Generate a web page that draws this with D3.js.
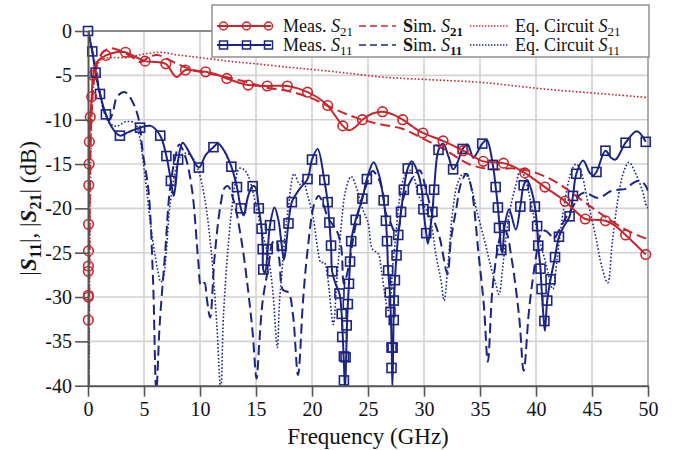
<!DOCTYPE html>
<html>
<head>
<meta charset="utf-8">
<script src="https://cdn.jsdelivr.net/npm/d3@7"></script>
<style>
  body { margin: 0; background: #fff; }
  svg { font-family: "Liberation Serif", "Times New Roman", serif; }
</style>
</head>
<body>
<svg id="chart" width="676" height="450"></svg>
<script>
// ---- data (frequency GHz, dB) ----
var xTicks = [0, 5, 10, 15, 20, 25, 30, 35, 40, 45, 50];
var yTicks = [0, -5, -10, -15, -20, -25, -30, -35, -40];

var measS21 = [[0,-60],[0.02,-45],[0.03,-30],[0.05,-22],[0.07,-17.4],[0.12,-12.5],[0.2,-9.7],[0.33,-7.4],[0.45,-5.0],
  [0.8,-3.5],[1.6,-2.75],[2.5,-2.4],[3.35,-2.4],[4.2,-2.9],[5.1,-3.4],[6.0,-3.5],[6.95,-3.7],[7.9,-5.2],[8.7,-4.4],
  [9.6,-4.5],[10.5,-4.6],[11.5,-4.9],[12.4,-5.35],[13.4,-5.8],[14.3,-6.1],[16.0,-6.2],[17.8,-6.2],[18.8,-6.5],
  [19.6,-6.9],[20.5,-7.5],[21.4,-8.4],[22.1,-9.6],[22.75,-10.7],[23.3,-11.2],[23.9,-10.8],[24.5,-10.0],[25.4,-9.3],
  [26.3,-9.1],[27.2,-9.4],[28.1,-10.0],[29.0,-10.8],[29.9,-11.5],[31.7,-12.4],[33.5,-13.5],[35.3,-14.7],[36.2,-14.8],
  [37.1,-14.9],[38.0,-15.3],[39.0,-16.0],[40.8,-17.6],[42.6,-19.2],[43.5,-20.3],[44.4,-21.2],[45.3,-21.3],
  [46.2,-21.4],[47.1,-22.0],[48.0,-23.0],[49.8,-25.2]];
var measS21Marks = [[0.03,-32.6],[0.03,-30.0],[0.03,-29.8],[0.03,-27.1],[0.035,-26.5],[0.04,-24.8],[0.05,-21.8],
  [0.07,-17.4],[0.1,-15.0],[0.12,-12.5],[0.2,-9.7],[0.33,-7.4],[0.45,-5.0],[1.6,-2.75],[3.35,-2.4],[5.1,-3.4],
  [6.95,-3.7],[8.7,-4.4],[10.5,-4.6],[12.4,-5.35],[14.3,-6.1],[16.0,-6.2],[17.8,-6.2],[19.6,-6.9],[21.4,-8.4],
  [22.75,-10.7],[24.5,-10.0],[26.3,-9.1],[28.1,-10.0],[29.9,-11.5],[31.7,-12.4],[33.5,-13.5],[35.3,-14.7],
  [37.1,-14.9],[39.0,-16.0],[40.8,-17.6],[42.6,-19.2],[44.4,-21.2],[46.2,-21.4],[48.0,-23.0],[49.8,-25.2]];

var simS21 = [[0.05,-45],[0.15,-20],[0.3,-10],[0.6,-5],[1.0,-3],[1.5,-2.2],[2.0,-1.95],[3.0,-2.3],[4.0,-3.0],
  [4.7,-3.5],[5.5,-2.9],[6.2,-2.7],[7.0,-3.1],[7.8,-3.6],[8.7,-4.1],[10,-4.6],[12,-5.1],[14,-5.7],[16,-6.4],
  [18,-6.8],[20,-7.6],[22,-8.8],[24,-9.8],[26,-10.5],[28,-11.0],[30,-12.2],[32,-13.5],[34,-15.0],[36,-15.6],
  [38,-15.5],[40,-16.0],[42,-17.2],[44,-19.0],[46,-20.8],[48,-22.4],[50,-23.5]];

var eqS21 = [[0.1,-45],[0.2,-20],[0.4,-8],[0.7,-4.5],[1.2,-3.2],[2,-3.0],[3.4,-3.0],[5,-2.6],[6.5,-2.4],[8,-2.7],
  [10,-3.0],[12.5,-3.4],[15,-3.7],[18,-4.1],[20.5,-4.4],[23.5,-4.8],[26.3,-5.2],[29,-5.4],[32.3,-5.6],[35.2,-5.8],
  [38.2,-6.2],[41.2,-6.6],[44.1,-6.9],[47.1,-7.2],[50,-7.5]];

var measS11 = [[0,0],[0.38,-2.3],[0.68,-4.7],[1.07,-7.1],[1.6,-9.4],[2.2,-11.0],[2.85,-11.8],[3.6,-11.4],[4.65,-10.9],
  [5.6,-10.7],[6.45,-11.8],[7.0,-14.1],[7.4,-16.9],[7.65,-18.6],[7.85,-17.0],[8.05,-14.5],[8.45,-12.6],[9.0,-13.6],
  [9.9,-15.4],[10.5,-14.0],[11.2,-13.1],[11.6,-12.7],[12.2,-13.6],[12.8,-15.3],[13.3,-17.6],[13.65,-20.0],
  [13.9,-20.8],[14.3,-18.6],[14.7,-17.5],[14.95,-17.6],[15.25,-20.0],[15.5,-22.3],[15.6,-24.6],[15.65,-26.9],
  [15.8,-27.3],[16.05,-24.6],[16.25,-21.9],[16.65,-19.9],[17.0,-21.3],[17.3,-24.2],[17.5,-25.8],[17.7,-24.0],
  [17.9,-21.7],[18.2,-19.3],[18.9,-17.8],[19.6,-16.7],[20.0,-14.5],[20.5,-13.3],[21.1,-16.8],[21.4,-19.3],
  [21.55,-21.6],[21.7,-24.2],[21.8,-27.1],[22.1,-28.5],[22.45,-29.6],[22.65,-31.9],[22.75,-34.5],[22.85,-37.5],
  [22.95,-40.5],[23.05,-36.8],[23.12,-33.2],[23.2,-30.8],[23.3,-28.5],[23.4,-26.0],[23.5,-23.7],[23.9,-21.3],
  [24.5,-18.9],[24.9,-16.7],[25.5,-14.8],[26.0,-16.3],[26.4,-19.1],[26.6,-21.4],[26.7,-23.7],[26.8,-27.0],
  [26.95,-29.5],[27.05,-32.5],[27.12,-36],[27.18,-40.2],[27.25,-35.7],[27.3,-31.5],[27.4,-28.1],[27.55,-25.3],
  [27.7,-23.0],[27.95,-20.4],[28.2,-17.9],[28.55,-15.5],[28.9,-14.7],[29.4,-15.8],[29.8,-17.9],[29.95,-20.1],
  [30.2,-22.8],[30.35,-24.0],[30.55,-22.3],[30.75,-20.4],[30.9,-17.9],[31.3,-13.4],[31.7,-12.7],[32.2,-14.2],
  [32.6,-15.6],[33.0,-14.8],[33.45,-13.3],[33.9,-12.8],[34.4,-14.3],[34.8,-13.6],[35.2,-12.7],[35.6,-12.3],
  [36.15,-15.1],[36.4,-17.6],[36.6,-19.9],[36.75,-22.2],[36.9,-24.7],[37.0,-25.0],[37.2,-22.0],[37.6,-20.1],
  [38.2,-22.4],[38.6,-19.8],[38.9,-17.4],[39.2,-16.8],[39.6,-18.0],[39.9,-19.8],[40.1,-22.0],[40.2,-24.2],
  [40.4,-26.8],[40.5,-29.1],[40.7,-32.7],[40.8,-33.8],[41.0,-30.4],[41.3,-28.0],[41.7,-25.5],[42.05,-23.2],
  [42.5,-22.0],[43.0,-20.9],[43.3,-18.6],[43.6,-16.1],[44.2,-14.6],[44.8,-16.0],[45.1,-16.3],[45.4,-15.9],
  [46.2,-13.5],[46.7,-14.3],[47.1,-14.5],[48.0,-12.6],[49.0,-11.3],[49.8,-12.5]];
var measS11Marks = [[0,0],[0.38,-2.3],[0.68,-4.7],[1.07,-7.1],[1.6,-9.4],[2.85,-11.8],[4.65,-10.9],[6.45,-11.8],
  [7.0,-14.1],[7.4,-16.9],[8.05,-14.5],[9.9,-15.4],[11.2,-13.1],[12.8,-15.3],[13.3,-17.6],[13.65,-20.0],[14.7,-17.5],
  [15.25,-20.0],[15.5,-22.3],[15.6,-24.6],[15.65,-26.9],[16.05,-24.6],[16.25,-21.9],[17.3,-24.2],[17.9,-21.7],
  [18.2,-19.3],[19.6,-16.7],[20.0,-14.5],[21.1,-16.8],[21.4,-19.3],[21.55,-21.6],[21.7,-24.2],[21.8,-27.1],
  [22.45,-29.6],[22.65,-31.9],[22.7,-34.5],[22.85,-36.7],[23.0,-36.8],[22.85,-39.4],[23.1,-33.2],[23.2,-30.8],
  [23.3,-28.5],[23.4,-26.0],[23.5,-23.7],[23.9,-21.3],[24.5,-18.9],[24.9,-16.7],[26.4,-19.1],[26.6,-21.4],
  [26.7,-23.7],[26.8,-27.0],[26.95,-29.5],[27.0,-31.7],[27.1,-35.7],[27.2,-35.7],[27.1,-38.0],[27.3,-32.6],
  [27.3,-30.4],[27.4,-28.1],[27.55,-25.3],[27.7,-23.0],[27.95,-20.4],[28.2,-17.9],[28.55,-15.5],[29.8,-17.9],
  [29.95,-20.1],[30.2,-22.8],[30.75,-20.4],[30.9,-17.9],[31.3,-13.4],[32.6,-15.6],[33.45,-13.3],[35.2,-12.7],
  [36.15,-15.1],[36.4,-17.6],[36.6,-19.9],[36.7,-22.2],[37.2,-22.0],[36.9,-24.7],[38.6,-19.8],[38.9,-17.4],
  [39.9,-19.8],[40.1,-22.0],[40.2,-24.2],[40.4,-26.8],[40.5,-29.1],[41.0,-30.4],[40.75,-32.7],[41.3,-28.0],
  [41.7,-25.5],[42.05,-23.2],[43.0,-20.9],[43.3,-18.6],[43.6,-16.1],[45.4,-15.9],[46.2,-13.5],[48.0,-12.6],[49.8,-12.5]];

var simS11 = [[0,0],[0.4,-2.3],[0.8,-5.2],[1.2,-7.8],[1.5,-9.3],[1.85,-10.1],[2.2,-9.3],[2.6,-7.4],[3.3,-6.9],
  [3.9,-7.8],[4.5,-9.8],[4.9,-13.8],[5.4,-18.0],[5.8,-27.8],[6.1,-40.5],[6.4,-33.1],[6.9,-24.8],[7.3,-18.0],
  [7.8,-14.2],[8.15,-12.8],[8.7,-14.2],[9.3,-18.0],[9.85,-26.0],[10.1,-28.7],[10.4,-28.4],[10.6,-30.1],[10.9,-32.3],
  [11.3,-25.5],[11.8,-19.9],[12.2,-17.7],[12.5,-17.5],[13.0,-19.1],[13.7,-23.6],[14.3,-29.3],[14.7,-34],
  [15.05,-39.2],[15.3,-35],[15.6,-30.4],[16.1,-26.7],[16.5,-23.8],[16.8,-23.6],[17.1,-26],[17.4,-29.2],[17.9,-29.5],
  [18.3,-32],[18.75,-38.8],[19.2,-30.4],[19.6,-24.8],[20.2,-19.5],[20.6,-18.6],[21.0,-19.5],[21.4,-21.0],
  [22.2,-22.5],[22.6,-24.3],[22.85,-28.5],[23.2,-27.0],[23.8,-22.5],[24.4,-19.1],[25.0,-16.9],[25.4,-15.8],
  [25.8,-16.3],[26.3,-18.0],[26.6,-20.6],[27.0,-21.6],[27.4,-22.6],[27.7,-22.4],[28.1,-19.1],[29.0,-16.5],
  [29.6,-15.7],[30.2,-18.0],[30.8,-21.0],[31.4,-23.3],[32.1,-27.4],[32.4,-23.6],[32.9,-19.9],[33.3,-17.2],
  [33.8,-16.1],[34.2,-17.5],[34.9,-25.5],[35.35,-31],[35.7,-37.3],[36.1,-29.3],[36.6,-24.4],[37.0,-22.5],
  [37.3,-22.6],[37.8,-25.5],[38.5,-32.3],[38.9,-38.3],[39.4,-31.2],[40.0,-25.5],[40.4,-23.0],[40.8,-22.5],
  [41.2,-22.9],[41.6,-23.4],[42.0,-22.6],[42.6,-21.2],[43.3,-19.8],[43.8,-18.6],[44.4,-18.2],[44.9,-18.5],
  [45.4,-18.8],[46.0,-18.6],[46.6,-18.1],[47.3,-17.9],[48.0,-17.8],[48.6,-17.2],[49.2,-16.9],[49.7,-17.3],[50,-18.0]];

var eqS11 = [[0,0],[0.4,-2.5],[0.7,-5],[1.1,-7.5],[1.5,-9.3],[1.8,-10.2],[2.3,-10.7],[2.7,-10.7],[3.2,-10.3],
  [3.6,-10.2],[4.2,-10.4],[4.6,-11.9],[5.1,-16.5],[5.7,-22.9],[6.2,-26.8],[6.5,-28.3],[6.75,-27.6],[7.0,-24.8],
  [7.3,-19.8],[7.9,-15.3],[8.4,-13.9],[8.8,-13.8],[9.3,-14.2],[9.85,-15.7],[10.4,-18.7],[11.0,-24.8],[11.5,-33.1],
  [11.85,-40.5],[12.1,-32],[12.5,-24.5],[12.8,-20.5],[13.1,-17.5],[13.5,-15.5],[13.9,-15.6],[14.3,-16.3],
  [14.9,-19.1],[15.5,-22.5],[16.1,-25.5],[16.5,-29.3],[16.9,-35.7],[17.1,-30.5],[17.3,-27.4],[17.6,-22.9],
  [17.9,-19.8],[18.4,-16.1],[18.9,-17.3],[19.2,-16.9],[19.6,-18.5],[20.1,-21.0],[20.5,-24.5],[20.8,-26.1],
  [21.1,-26.1],[21.4,-27.8],[21.9,-33.1],[22.2,-28.5],[22.6,-22.1],[23.0,-18.0],[23.5,-16.4],[24.0,-17.8],
  [24.5,-20.0],[25.0,-21.6],[25.4,-24.6],[25.9,-25.1],[26.2,-27],[26.5,-29.7],[26.8,-31.5],[27.0,-30.4],
  [27.2,-26.7],[27.5,-22.9],[27.8,-19.1],[28.2,-16.6],[28.7,-15.7],[29.1,-16.5],[29.5,-18.5],[29.9,-19.5],
  [30.5,-21.0],[31.1,-25.5],[31.5,-28],[31.8,-30.4],[32.1,-27],[32.6,-19.9],[33.0,-17.2],[33.5,-16.1],[33.9,-16.4],
  [34.3,-18.0],[34.7,-20.2],[35.4,-23.6],[36.0,-26.7],[36.4,-28.5],[36.7,-29.7],[37.0,-27],[37.3,-23.5],
  [37.7,-20],[38.2,-17.4],[38.6,-15.7],[39.0,-16.5],[39.7,-20.3],[40.3,-23.5],[40.9,-26.3],[41.5,-29.1],
  [41.9,-25.5],[42.4,-20.6],[42.9,-17],[43.3,-15.4],[43.6,-15.0],[44.0,-15.8],[44.6,-19.1],[45.3,-23],[45.9,-26.7],
  [46.4,-28.4],[46.8,-24],[47.3,-19.1],[47.8,-16],[48.3,-14.8],[48.8,-15.8],[49.5,-18.0],[49.8,-19.5],[50,-20]];

var red = "#c8262c", blue = "#1c2482";

var svg = d3.select("#chart");
var x = d3.scaleLinear().domain([0, 50]).range([88, 648]);
var y = d3.scaleLinear().domain([-40, 0]).range([385.7, 31]);

// grid
svg.append("g").selectAll("line").data(xTicks.slice(1, -1)).enter().append("line")
  .attr("x1", d => x(d)).attr("x2", d => x(d)).attr("y1", y(0)).attr("y2", y(-40))
  .attr("stroke", "#d2d2d2").attr("stroke-width", 1.6);
svg.append("g").selectAll("line").data(yTicks.slice(1, -1)).enter().append("line")
  .attr("x1", x(0)).attr("x2", x(50)).attr("y1", d => y(d)).attr("y2", d => y(d))
  .attr("stroke", "#d2d2d2").attr("stroke-width", 1.6);

// frame top / right
svg.append("line").attr("x1", x(0)).attr("x2", x(50)).attr("y1", y(0)).attr("y2", y(0))
  .attr("stroke", "#666").attr("stroke-width", 1.6);
svg.append("line").attr("x1", x(50)).attr("x2", x(50)).attr("y1", y(0)).attr("y2", y(-40))
  .attr("stroke", "#999").attr("stroke-width", 1.6);

svg.append("clipPath").attr("id", "plot").append("rect")
  .attr("x", x(0)).attr("y", y(0)).attr("width", x(50) - x(0)).attr("height", y(-40) - y(0));

var line = d3.line().x(d => x(d[0])).y(d => y(d[1])).curve(d3.curveCatmullRom.alpha(0.5));
var plot = svg.append("g").attr("clip-path", "url(#plot)");

function drawLine(data, color, width, dash) {
  plot.append("path").datum(data).attr("d", line)
    .attr("fill", "none").attr("stroke", color).attr("stroke-width", width)
    .attr("stroke-dasharray", dash).attr("stroke-linejoin", "round");
}

drawLine(eqS11, blue, 1.6, "1.6,2");
drawLine(simS11, blue, 2, "10,5");
drawLine(measS11, blue, 2, null);
svg.append("g").selectAll("rect").data(measS11Marks).enter().append("rect")
  .attr("x", d => x(d[0]) - 4.5).attr("y", d => y(d[1]) - 4.5)
  .attr("width", 9).attr("height", 9)
  .attr("fill", "none").attr("stroke", blue).attr("stroke-width", 1.6);

drawLine(eqS21, red, 1.6, "1.6,2");
drawLine(simS21, red, 2, "10,5");
drawLine(measS21, red, 2, null);
svg.append("g").selectAll("circle").data(measS21Marks).enter().append("circle")
  .attr("cx", d => x(d[0])).attr("cy", d => y(d[1])).attr("r", 4.8)
  .attr("fill", "none").attr("stroke", red).attr("stroke-width", 1.6);

// axes
var yAxis = svg.append("g").attr("transform", "translate(" + x(0) + ",0)")
  .call(d3.axisLeft(y).tickValues(yTicks).tickSize(13).tickSizeOuter(0).tickPadding(3).tickFormat(d => String(d)));
var xAxis = svg.append("g").attr("transform", "translate(0," + y(-40) + ")")
  .call(d3.axisBottom(x).tickValues(xTicks).tickSize(11).tickSizeOuter(0).tickPadding(5).tickFormat(d => String(d)));
[xAxis, yAxis].forEach(function(a) {
  a.select(".domain").attr("stroke", "#555").attr("stroke-width", 2);
  a.selectAll(".tick line").attr("stroke", "#555").attr("stroke-width", 1.6);
  a.selectAll(".tick text").attr("fill", "#111").style("font-size", "20px")
    .style("font-family", '"Liberation Serif", serif');
});

svg.append("text").attr("x", (x(0) + x(50)) / 2).attr("y", 444)
  .attr("text-anchor", "middle").style("font-size", "23px").attr("fill", "#111")
  .text("Frequency (GHz)");

var yl = svg.append("text").attr("transform", "translate(36," + ((y(0) + y(-40)) / 2) + ") rotate(-90)")
  .attr("text-anchor", "middle").style("font-size", "23px").attr("fill", "#111");
yl.append("tspan").text("|");
yl.append("tspan").attr("font-weight", "bold").attr("font-style", "italic").text("S");
yl.append("tspan").attr("font-weight", "bold").style("font-size", "16px").attr("dy", 5).text("11");
yl.append("tspan").attr("dy", -5).text("|, |");
yl.append("tspan").attr("font-weight", "bold").attr("font-style", "italic").text("S");
yl.append("tspan").attr("font-weight", "bold").style("font-size", "16px").attr("dy", 5).text("21");
yl.append("tspan").attr("dy", -5).text("| (dB)");

// legend
var legendRows = [
  { color: red, sub: "21", marker: "circle" },
  { color: blue, sub: "11", marker: "square" }
];
var lg = svg.append("g");
lg.append("rect").attr("x", 212).attr("y", 5).attr("width", 437).attr("height", 52)
  .attr("fill", "#fff").attr("stroke", "#888").attr("stroke-width", 1.4);

legendRows.forEach(function(r, i) {
  var cy = 26 + i * 19;
  lg.append("line").attr("x1", 217).attr("x2", 271).attr("y1", cy).attr("y2", cy)
    .attr("stroke", r.color).attr("stroke-width", 2);
  [223.5, 246.5, 268.5].forEach(function(mx) {
    if (r.marker === "circle")
      lg.append("circle").attr("cx", mx).attr("cy", cy).attr("r", 4)
        .attr("fill", "none").attr("stroke", r.color).attr("stroke-width", 1.5);
    else
      lg.append("rect").attr("x", mx - 4).attr("y", cy - 4).attr("width", 8).attr("height", 8)
        .attr("fill", "none").attr("stroke", r.color).attr("stroke-width", 1.5);
  });
  lg.append("line").attr("x1", 359).attr("x2", 396).attr("y1", cy).attr("y2", cy)
    .attr("stroke", r.color).attr("stroke-width", 1.6).attr("stroke-dasharray", "7,4");
  lg.append("line").attr("x1", 470).attr("x2", 509).attr("y1", cy).attr("y2", cy)
    .attr("stroke", r.color).attr("stroke-width", 1.4).attr("stroke-dasharray", "1.4,1.6");

  var t1 = lg.append("text").attr("x", 283).attr("y", cy + 6).style("font-size", "18px").attr("fill", "#111");
  t1.append("tspan").text("Meas. ");
  t1.append("tspan").attr("font-style", "italic").text("S");
  t1.append("tspan").style("font-size", "13px").attr("dy", 4).text(r.sub);

  var t2 = lg.append("text").attr("x", 403).attr("y", cy + 6).style("font-size", "18px").attr("fill", "#111");
  t2.append("tspan").attr("font-weight", "bold").text("S");
  t2.append("tspan").text("im. ");
  t2.append("tspan").attr("font-style", "italic").text("S");
  t2.append("tspan").attr("font-weight", "bold").style("font-size", "13px").attr("dy", 4).text(r.sub);

  var t3 = lg.append("text").attr("x", 515).attr("y", cy + 6).style("font-size", "18px").attr("fill", "#111");
  t3.append("tspan").text("Eq. Circuit ");
  t3.append("tspan").attr("font-style", "italic").text("S");
  t3.append("tspan").style("font-size", "13px").attr("dy", 4).text(r.sub);
});
</script>
</body>
</html>
